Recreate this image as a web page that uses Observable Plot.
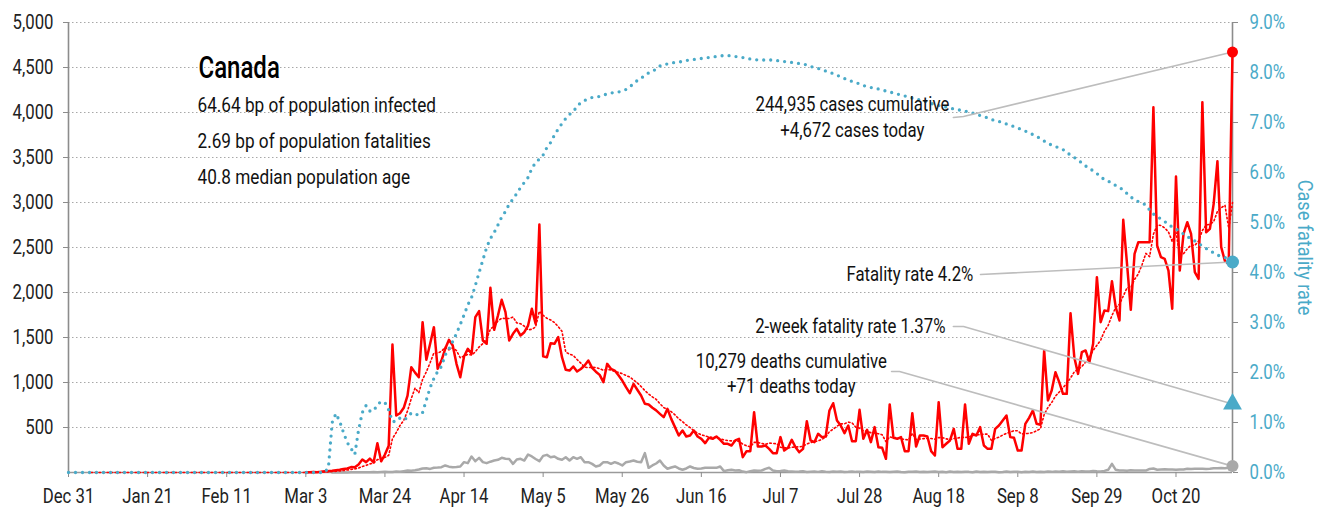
<!DOCTYPE html>
<html>
<head>
<meta charset="utf-8">
<script src="https://cdn.jsdelivr.net/npm/d3@7"></script>
<script src="https://cdn.jsdelivr.net/npm/@observablehq/plot@0.6"></script>
<style>
  html, body { margin: 0; padding: 0; background: #fff; }
  #chart svg { display: block; }
</style>
</head>
<body>
<div id="chart"></div>
<script>
// ---------- data ----------
const startDay = "2019-12-31";            // first date of the daily series
const endDay = "2020-11-04";              // last date of the daily series
const xTickDates = ["2019-12-31","2020-01-21","2020-02-11","2020-03-03","2020-03-24","2020-04-14",
  "2020-05-05","2020-05-26","2020-06-16","2020-07-07","2020-07-28","2020-08-18","2020-09-08","2020-09-29","2020-10-20"];
const leftTicks = [500,1000,1500,2000,2500,3000,3500,4000,4500,5000];
const rightTicks = [0,1,2,3,4,5,6,7,8,9];   // case fatality rate, %

// daily new cases, one value per day from Dec 31
const cases = [
  0,0,0,0,0,0,0,0,0,0, 0,0,0,0,0,0,0,0,0,0, 0,0,0,0,0,0,0,0,0,0,
  0,0,0,0,0,0,0,0,0,0, 0,0,0,0,0,0,0,0,0,0, 0,0,0,0,0,0,0,0,0,0,
  0,0,0,
  3,3,6,4,9,15,17,20,25,30,40,45,60,58,90,144,115,155,113,326,124,200,296,
  1422,633,659,719,855,1170,1110,1059,1670,1252,1430,1615,1152,1244,1374,1474,1411,1207,1059,1289,
  1374,1319,1726,1793,1467,1430,2052,1585,1744,1919,1782,1467,1541,1596,1522,1559,1633,1819,1652,2756,
  1290,1280,1437,1430,1504,
  1281,1141,1133,1178,1122,1150,1189,1244,1163,1120,1085,1004,1207,1152,1133,1080,1022,948,881,985,
  920,856,763,756,719,690,652,615,707,596,504,411,467,400,411,467,400,374,326,385,
  374,400,363,319,319,300,356,374,170,237,237,670,289,289,300,263,215,215,393,244,
  274,363,281,226,263,570,356,337,430,
  393,400,689,770,578,522,437,522,348,348,696,374,474,337,504,281,274,152,756,385,
  374,393,237,237,659,289,411,411,400,237,189,781,281,319,356,485,263,263,756,319,
  430,411,504,300,263,263,485,522,578,633,393,385,244,244,541,607,689,541,530,1356,
  800,911,1115,1004,874,874,1770,1281,1096,1337,1356,1226,1430,
  2170,1670,1800,1793,2126,1837,1689,2807,2319,1807,2430,2559,2559,2559,2559,4059,2522,2393,2374,2244,
  1819,3289,2244,2652,2781,2652,2226,2152,4115,2670,2707,2985,3459,2504,2348,2320,4672
];

// daily deaths, one value per day from Dec 31
const deaths = [
  0,0,0,0,0,0,0,0,0,0, 0,0,0,0,0,0,0,0,0,0, 0,0,0,0,0,0,0,0,0,0,
  0,0,0,0,0,0,0,0,0,0, 0,0,0,0,0,0,0,0,0,0, 0,0,0,0,0,0,0,0,0,0,
  0,0,0,0,0,0,0,0,0,0,
  1,1,1,2,1,2,3,2,3,4,3,5,4,6,8,6,
  5,11,8,15,22,20,25,33,45,48,40,52,55,59,78,65,59,60,67,115,
  104,178,126,163,115,104,120,133,141,163,152,150,96,144,152,133,200,178,150,126,
  185,196,170,178,152,141,170,133,170,152,170,115,115,96,67,78,115,115,96,115,
  100,78,115,122,133,120,115,215,52,78,100,133,78,41,55,67,45,30,45,67,
  50,41,45,52,52,52,52,67,15,25,30,22,25,10,4,15,22,20,22,40,
  52,22,15,18,22,15,
  12,8,10,14,6,9,11,7,13,8,5,10,9,12,6,8,11,7,9,5,
  10,8,6,12,7,9,5,8,11,6,4,9,7,10,5,8,6,9,12,5,
  7,4,10,6,8,5,9,7,3,11,6,8,5,7,9,4,6,10,5,8,
  7,4,9,6,11,5,8,6,10,7,12,9,14,8,11,13,9,15,12,10,
  16,13,11,18,
  30,96,30,22,22,20,24,22,23,22,21,40,44,30,33,35,32,33,31,34,
  33,41,40,42,41,43,40,41,48,47,49,48,52,71
];

// case fatality rate (%), one value per day from Dec 31
const cfr = [
  0,0,0,0,0,0,0,0,0,0, 0,0,0,0,0,0,0,0,0,0, 0,0,0,0,0,0,0,0,0,0,
  0,0,0,0,0,0,0,0,0,0, 0,0,0,0,0,0,0,0,0,0, 0,0,0,0,0,0,0,0,0,0,
  0,0,0,0,0,0,0,0,0,
  0.1,1.0,1.18,1.02,0.8,0.6,0.48,0.36,0.85,1.2,
  1.34,1.23,1.23,1.36,1.42,1.40,1.25,1.02,1.02,1.09,
  1.05,1.1,1.19,1.18,1.14,1.2,1.45,1.7,1.88,2.02,
  2.12,2.35,2.47,2.62,2.78,2.96,3.15,3.35,3.5,3.74,
  4.0,4.25,4.5,4.68,4.8,4.95,5.11,5.22,5.37,5.47,
  5.58,5.7,5.8,5.9,6.08,6.2,6.27,6.35,6.5,6.6,
  6.75,6.87,6.98,7.08,7.16,7.22,7.32,7.4,7.44,7.47,
  7.5,7.51,7.52,7.55,7.57,7.59,7.6,7.61,7.63,7.66,
  7.71,7.78,7.84,7.88,7.95,7.99,8.02,8.07,8.13,8.16,
  8.17,8.19,8.2,8.21,8.22,8.24,8.25,8.26,8.27,8.28,
  8.29,8.3,8.31,8.32,8.33,8.34,8.34,8.33,8.32,8.31,
  8.3,8.28,8.27,8.26,8.25,8.25,8.25,8.25,8.25,8.24,
  8.23,8.22,8.21,8.2,8.19,8.18,8.17,8.15,8.12,8.1,
  8.08,8.06,8.03,8.0,7.98,7.95,7.91,7.88,7.85,7.82,
  7.8,7.77,7.74,7.72,7.7,7.68,7.67,7.65,7.63,7.61,
  7.59,7.57,7.55,7.53,7.51,7.49,7.47,7.45,7.43,7.41,
  7.38,7.36,7.34,7.32,7.31,7.29,7.27,7.26,7.24,7.23,
  7.21,7.19,7.16,7.14,7.12,7.09,7.06,7.04,7.02,7.0,
  6.97,6.94,6.92,6.89,6.86,6.83,6.79,6.76,6.72,6.68,
  6.63,6.58,6.55,6.52,6.49,6.46,6.4,6.35,6.3,6.25,
  6.19,6.13,6.09,6.03,5.98,5.91,5.86,5.83,5.78,5.74,
  5.7,5.65,5.58,5.51,5.46,5.42,5.39,5.35,5.25,5.17,
  5.12,5.07,5.02,4.96,4.91,4.87,4.82,4.77,4.72,4.67,
  4.63,4.58,4.53,4.48,4.44,4.39,4.35,4.32,4.30,4.26,
  4.21
];

const twoWeekCfr = 1.37;   // %
const countryName = "Canada";
const infoLines = ["64.64 bp of population infected", "2.69 bp of population fatalities", "40.8 median population age"];
const casesLabel = ["244,935 cases cumulative", "+4,672 cases today"];
const deathsLabel = ["10,279 deaths cumulative", "+71 deaths today"];
const fatalityLabel = "Fatality rate 4.2%";
const twoWeekLabel = "2-week fatality rate 1.37%";
const rightAxisTitle = "Case fatality rate";

// ---------- build table ----------
const parse = d3.utcParse("%Y-%m-%d");
const start = parse(startDay);
const end = parse(endDay);
const K = 5000 / 9; // maps right-axis % onto the left-axis units
const data = cases.map((c, i) => ({date: d3.utcDay.offset(start, i), cases: c, deaths: deaths[i], cfr: cfr[i]}));
const firstCase = cases.findIndex(v => v > 0);
const firstDeath = deaths.findIndex(v => v > 0);
const last = data[data.length - 1];
const dayAt = n => new Date(+start + n * 864e5);

const BLUE = "#4aaac8";
const LEADER = "#bdbdbd";
const FONT = "Roboto, 'Noto Sans', sans-serif";
const FS = 19.5;
const NARROW = 0.86;   // horizontal squeeze for the condensed look
const TITLE_NARROW = 0.75;

// annotation anchor points (placement in data space)
const casesLeader = [{date: dayAt(234.9), v: 3944}, {date: dayAt(237.6), v: 3956}, {date: last.date, v: last.cases}];
const fatalLeader = [{date: dayAt(242.1), v: 2200}, {date: last.date, v: last.cfr * K}];
const twoWeekLeader = [{date: dayAt(234.9), v: 1622}, {date: dayAt(237.6), v: 1622}, {date: last.date, v: twoWeekCfr * K}];
const deathsLeader = [{date: dayAt(218.5), v: 1122}, {date: dayAt(220.6), v: 1122}, {date: last.date, v: last.deaths}];

const chart = Plot.plot({
  width: 1324,
  height: 512,
  marginLeft: 68,
  marginRight: 92,
  marginTop: 22,
  marginBottom: 40,
  style: {fontFamily: FONT, fontSize: FS + "px", color: "#222", background: "#fff", overflow: "visible"},
  x: {type: "utc", domain: [start, end]},
  y: {domain: [0, 5000]},
  marks: [
    Plot.gridY(leftTicks, {stroke: "#a8a8a8", strokeOpacity: 1, strokeWidth: 1, strokeDasharray: "1.5,2.5"}),
    Plot.ruleX([start], {stroke: "#8c8c8c", strokeWidth: 1.6}),
    Plot.ruleX([end], {stroke: "#8c8c8c", strokeWidth: 1.6}),
    Plot.ruleY([0], {stroke: "#9a9a9a", strokeWidth: 1.6}),
    Plot.axisY(leftTicks, {anchor: "left", tickSize: 5, tickPadding: 10, tickFormat: d3.format(","), label: null, stroke: "#8c8c8c", fill: "#222", fontSize: FS}),
    Plot.axisY(rightTicks.map(t => t * K), {anchor: "right", tickSize: 5, tickPadding: 12, tickFormat: d => (d / K).toFixed(1) + "%", label: null, stroke: "#8c8c8c", fill: BLUE, fontSize: FS}),
    Plot.axisX(xTickDates.map(parse), {anchor: "bottom", tickSize: 5, tickPadding: 12, tickFormat: d3.utcFormat("%b %-d"), label: null, stroke: "#8c8c8c", fill: "#222", fontSize: FS}),
    Plot.text([rightAxisTitle], {text: d => d, frameAnchor: "right", dx: 72, rotate: 90, textAnchor: "middle", lineAnchor: "middle", fill: BLUE, fontSize: 21}),

    // series
    Plot.lineY(data, {filter: (d, i) => i >= firstDeath, x: "date", y: "deaths", stroke: "#a9a9a9", strokeWidth: 2.5}),
    Plot.lineY(data, {filter: (d, i) => i >= firstCase, x: "date", y: "cases", stroke: "#ff0000", strokeWidth: 2.5}),
    Plot.lineY(data, Plot.windowY({k: 7, anchor: "end", strict: true}, {x: "date", y: "cases", stroke: "#ff0000", strokeWidth: 1.6, strokeDasharray: "1.5,2.5"})),
    Plot.lineY(data, {x: "date", y: d => d.cfr * K, stroke: BLUE, strokeWidth: 3.3, strokeDasharray: "0,7", strokeLinecap: "round"}),

    // leaders
    Plot.line(casesLeader, {x: "date", y: "v", stroke: LEADER, strokeWidth: 1.6}),
    Plot.line(fatalLeader, {x: "date", y: "v", stroke: LEADER, strokeWidth: 1.6}),
    Plot.line(twoWeekLeader, {x: "date", y: "v", stroke: LEADER, strokeWidth: 1.6}),
    Plot.line(deathsLeader, {x: "date", y: "v", stroke: LEADER, strokeWidth: 1.6}),

    // end markers
    Plot.dot([last], {x: "date", y: "cases", r: 5.5, fill: "#ff0000"}),
    Plot.dot([last], {x: "date", y: d => d.cfr * K, r: 6.5, fill: BLUE}),
    Plot.dot([last], {x: "date", y: () => twoWeekCfr * K, r: 7, symbol: "triangle", fill: BLUE}),
    Plot.dot([last], {x: "date", y: "deaths", r: 6, fill: "#a9a9a9"}),

    // annotation labels
    Plot.text([casesLabel.join("\n")], {text: d => d, x: dayAt(208.1), y: 3960, textAnchor: "middle", lineAnchor: "middle", lineHeight: 1.333, fill: "#111", fontSize: FS}),
    Plot.text([fatalityLabel], {text: d => d, x: dayAt(240.2), y: 2200, textAnchor: "end", lineAnchor: "middle", fill: "#111", fontSize: FS}),
    Plot.text([twoWeekLabel], {text: d => d, x: dayAt(232.8), y: 1622, textAnchor: "end", lineAnchor: "middle", fill: "#111", fontSize: FS}),
    Plot.text([deathsLabel.join("\n")], {text: d => d, x: dayAt(191.9), y: 1106, textAnchor: "middle", lineAnchor: "middle", lineHeight: 1.282, fill: "#111", fontSize: FS}),

    // info block
    Plot.text([countryName], {className: "country-title", text: d => d, frameAnchor: "top-left", dx: 130, dy: 45, textAnchor: "start", lineAnchor: "middle", fontSize: 32, fontWeight: 500, fill: "#000"}),
    Plot.text([infoLines.join("\n")], {text: d => d, frameAnchor: "top-left", dx: 129, dy: 64.4, textAnchor: "start", lineAnchor: "top", lineHeight: 1.8, fontSize: 20, fill: "#111"})
  ]
});

// condensed look: squeeze every text horizontally about its own anchor
chart.querySelectorAll("text").forEach(t => {
  const s = t.closest(".country-title") ? TITLE_NARROW : NARROW;
  let tr = t.getAttribute("transform") || "";
  const xa = t.getAttribute("x");
  if (xa !== null && isFinite(+xa) && +xa !== 0) {
    tr += ` translate(${+xa},0)`;
    t.removeAttribute("x");
  }
  t.setAttribute("transform", (tr + ` scale(${s},1)`).trim());
});

document.getElementById("chart").appendChild(chart);
</script>
</body>
</html>
